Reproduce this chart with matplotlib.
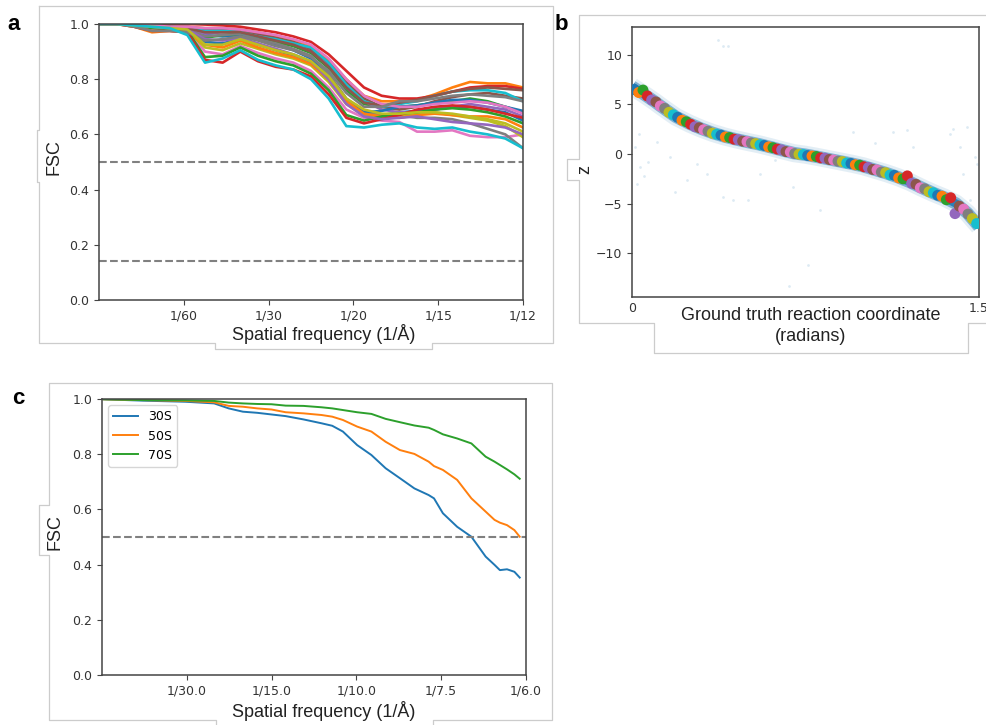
import numpy as np
import matplotlib
matplotlib.use("Agg")
import matplotlib.pyplot as plt
from matplotlib.lines import Line2D

# ---- panel a: per-map FSC curves ----
freq_a = np.arange(25) / 288.0
fsc_maps = [
    [1.0, 1.0, .995, .99, .985, .98, .96, .955, .96, .945, .925, .905, .875, .81, .72, .68, .67, .68, .685, .69, .70, .70, .69, .68, .65],
    [1.0, 1.0, 1.0, .995, .99, .99, .985, .985, .98, .97, .955, .94, .92, .87, .80, .74, .72, .72, .725, .745, .77, .79, .785, .785, .77],
    [1.0, 1.0, .995, .99, .985, .98, .95, .96, .965, .95, .935, .92, .895, .84, .76, .71, .70, .70, .705, .715, .72, .73, .72, .70, .68],
    [1.0, 1.0, 1.0, 1.0, 1.0, 1.0, .998, .995, .99, .98, .97, .955, .935, .89, .83, .77, .74, .73, .73, .74, .755, .77, .775, .775, .765],
    [1.0, 1.0, .995, .99, .985, .98, .965, .97, .975, .96, .945, .93, .905, .85, .77, .72, .69, .68, .68, .69, .70, .71, .70, .69, .665],
    [1.0, 1.0, 1.0, .995, .99, .99, .98, .98, .975, .965, .95, .935, .91, .86, .79, .73, .70, .69, .70, .72, .735, .745, .75, .74, .73],
    [1.0, 1.0, .995, .99, .98, .975, .90, .89, .92, .895, .875, .86, .83, .77, .69, .66, .65, .645, .61, .61, .615, .595, .59, .59, .60],
    [1.0, 1.0, .995, .99, .985, .98, .955, .96, .965, .945, .93, .91, .885, .82, .73, .68, .67, .67, .66, .66, .655, .64, .62, .60, .55],
    [1.0, 1.0, .995, .99, .98, .975, .915, .905, .93, .91, .89, .875, .85, .79, .71, .67, .665, .67, .675, .68, .67, .66, .65, .63, .59],
    [1.0, 1.0, 1.0, .995, .99, .985, .975, .975, .97, .955, .945, .93, .915, .86, .78, .72, .70, .71, .72, .74, .755, .76, .76, .75, .72],
    [1.0, 1.0, .995, .99, .985, .98, .935, .93, .945, .925, .905, .885, .86, .80, .715, .68, .685, .70, .705, .715, .725, .725, .715, .70, .685],
    [1.0, 1.0, .99, .97, .975, .97, .925, .915, .94, .915, .895, .88, .855, .80, .72, .675, .665, .66, .67, .675, .67, .665, .665, .655, .625],
    [1.0, 1.0, .995, .985, .98, .975, .88, .885, .915, .885, .865, .85, .82, .76, .67, .65, .665, .675, .68, .69, .695, .69, .68, .665, .64],
    [1.0, 1.0, .99, .975, .975, .97, .87, .86, .90, .865, .845, .835, .81, .745, .66, .64, .655, .67, .69, .70, .705, .70, .69, .675, .66],
    [1.0, 1.0, .995, .99, .985, .98, .945, .94, .95, .93, .91, .89, .865, .80, .71, .665, .655, .66, .665, .655, .645, .64, .635, .625, .60],
    [1.0, 1.0, 1.0, .995, .99, .985, .97, .97, .97, .955, .94, .925, .90, .845, .77, .715, .705, .715, .725, .74, .755, .765, .77, .765, .76],
    [1.0, 1.0, 1.0, .995, .99, .99, .985, .985, .98, .97, .96, .945, .925, .875, .80, .74, .71, .70, .70, .71, .715, .72, .715, .70, .675],
    [1.0, 1.0, .99, .975, .975, .97, .94, .945, .955, .94, .92, .905, .88, .83, .75, .70, .70, .72, .72, .73, .74, .745, .74, .735, .72],
    [1.0, 1.0, .995, .99, .985, .98, .925, .925, .945, .925, .905, .89, .865, .81, .73, .69, .675, .675, .68, .68, .675, .665, .655, .64, .61],
    [1.0, 1.0, .995, .99, .985, .96, .86, .875, .905, .87, .85, .835, .80, .73, .63, .625, .635, .64, .625, .62, .625, .61, .60, .585, .55],
]
ticks_a = [1/60, 1/30, 1/20, 1/15, 1/12]
ticklabels_a = ["1/60", "1/30", "1/20", "1/15", "1/12"]

# ---- panel b: latent coordinate vs ground truth ----
band_x = [0.0, 0.05, 0.10, 0.12, 0.15, 0.19, 0.25, 0.30, 0.35, 0.40, 0.45, 0.50, 0.55, 0.60,
          0.65, 0.70, 0.75, 0.80, 0.85, 0.90, 0.95, 1.00, 1.05, 1.10, 1.15, 1.20, 1.25,
          1.30, 1.35, 1.40, 1.45, 1.50]
band_z = [6.8, 6.05, 5.25, 4.9, 4.4, 3.75, 3.05, 2.55, 2.12, 1.77, 1.48, 1.22, 0.98, 0.69,
          0.38, 0.09, -0.07, -0.28, -0.51, -0.74, -0.97, -1.23, -1.58, -1.93, -2.33, -2.80,
          -3.37, -3.90, -4.38, -4.98, -5.95, -7.3]
dot_z = [6.5, 6.2, 6.45, 5.85, 5.45, 5.25, 4.85, 4.6, 4.2, 3.95, 3.7, 3.4, 3.25, 3.0, 2.75,
         2.65, 2.45, 2.3, 2.1, 2.0, 1.9, 1.72, 1.66, 1.5, 1.45, 1.3, 1.25, 1.12, 1.05, 0.93,
         0.86, 0.72, 0.64, 0.5, 0.42, 0.25, 0.2, 0.05, -0.02, -0.05, -0.15, -0.2, -0.25, -0.38,
         -0.42, -0.55, -0.6, -0.72, -0.76, -0.9, -0.95, -1.08, -1.12, -1.28, -1.35, -1.55,
         -1.6, -1.82, -1.88, -2.1, -2.15, -2.4, -2.5, -2.2, -2.95, -3.05, -3.4, -3.5, -3.8,
         -3.9, -4.15, -4.25, -4.6, -4.4, -6.0, -5.25, -5.55, -6.05, -6.5, -7.0]
dot_x = np.linspace(0.01, 1.49, len(dot_z))
stray_x = [0.373, 0.395, 0.416, 0.030, 0.035, 0.013, 0.164, 0.186, 0.236, 0.323, 0.395, 0.438,
           0.503, 0.553, 0.697, 0.813, 0.762, 0.680, 0.957, 1.130, 1.187, 1.389, 1.447, 1.483,
           1.490, 1.418, 1.432, 1.375, 1.461, 1.216, 0.05, 0.07, 0.02, 0.11, 0.28, 0.62, 1.05]
stray_z = [11.5, 10.9, 10.9, 2.05, -1.3, 0.7, -0.3, -3.8, -2.65, -1.97, -4.33, -4.66, -4.66,
           -1.97, -3.32, -5.67, -11.2, -13.3, 2.21, 2.21, 2.38, 2.55, 2.71, -0.3, -0.97, 0.7,
           -1.97, 2.05, -4.66, 0.7, -2.2, -0.8, -3.0, 1.2, -1.0, -0.6, 1.1]

# ---- panel c: ribosome subunit FSC ----
freq_c = [0.0006, 0.0161, 0.0329, 0.0441, 0.0498, 0.0554, 0.0610, 0.0666, 0.0722, 0.0792,
          0.0863, 0.0905, 0.0947, 0.1003, 0.1059, 0.1115, 0.1171, 0.1228, 0.1284, 0.1305,
          0.1340, 0.1396, 0.1452, 0.1508, 0.1543, 0.1564, 0.1592, 0.1621, 0.1642]
fsc_30s = [.999, .994, .990, .984, .966, .954, .950, .944, .938, .926, .912, .903, .882, .833,
           .797, .749, .713, .676, .652, .640, .586, .537, .501, .429, .399, .380, .383, .374, .353]
fsc_50s = [.999, .996, .993, .988, .975, .972, .966, .962, .952, .948, .942, .936, .924, .900,
           .882, .845, .815, .801, .773, .757, .743, .707, .640, .592, .562, .552, .543, .525, .501]
fsc_70s = [.999, .996, .995, .993, .987, .984, .982, .981, .976, .975, .970, .966, .960, .952,
           .946, .928, .916, .904, .896, .888, .872, .857, .839, .791, .773, .761, .745, .727, .711]
labels_c = ["30S", "50S", "70S"]
ticks_c = [1/30, 1/15, 1/10, 1/7.5, 1/6]
ticklabels_c = ["1/30.0", "1/15.0", "1/10.0", "1/7.5", "1/6.0"]

W, H = 987, 725
fig = plt.figure(figsize=(W / 100, H / 100), dpi=100)
tab = plt.get_cmap("tab10").colors
LAB = dict(family="Liberation Sans", fontsize=13, color="#222222")


def px_axes(l, t, r, b):
    return fig.add_axes([l / W, 1 - b / H, (r - l) / W, (b - t) / H])


def frame(pts):
    fig.add_artist(Line2D([p[0] / W for p in pts], [1 - p[1] / H for p in pts],
                          color="#cccccc", lw=0.9))


def style(ax):
    for s in ax.spines.values():
        s.set_linewidth(1.1)
        s.set_color("#444444")
    ax.tick_params(labelsize=9, colors="#444444", labelcolor="#333333", length=3.5)


# frames around the panels
frame([(39, 6), (553, 6), (553, 343), (432, 343), (432, 349), (215, 349), (215, 343),
       (39, 343), (39, 182), (37, 182), (37, 130), (39, 130), (39, 6)])
frame([(990, 15), (579, 15), (579, 159), (567, 159), (567, 180), (579, 180), (579, 323),
       (654, 323), (654, 353), (968, 353), (968, 323), (990, 323)])
frame([(216, 730), (216, 720), (49, 720), (49, 555), (39, 555), (39, 505), (49, 505),
       (49, 383), (552, 383), (552, 720), (433, 720), (433, 730)])

# panel a
ax = px_axes(99, 24, 523, 300)
for i, curve in enumerate(fsc_maps):
    ax.plot(freq_a, curve, color=tab[i % 10], lw=1.9)
ax.axhline(0.5, color="gray", ls="--", lw=1.5)
ax.axhline(0.143, color="gray", ls="--", lw=1.5)
ax.set_xlim(0, 1/12)
ax.set_ylim(0, 1)
ax.set_xticks(ticks_a)
ax.set_xticklabels(ticklabels_a)
ax.set_yticks(np.arange(0, 1.01, 0.2))
style(ax)

# panel b
ax = px_axes(632, 27, 979, 297)
ax.plot(band_x, band_z, color="#1f77b4", lw=13, alpha=0.12, solid_capstyle="butt")
ax.plot(band_x, band_z, color="#1f77b4", lw=9, alpha=0.5, solid_capstyle="butt")
ax.plot(band_x, band_z, color="#1f77b4", lw=6, alpha=0.85, solid_capstyle="butt")
ax.scatter(stray_x, stray_z, s=4, color="#1f77b4", alpha=0.15, lw=0)
ax.scatter(dot_x, dot_z, s=62, c=[tab[i % 10] for i in range(len(dot_z))], lw=0, zorder=3)
ax.set_xlim(0, 1.5)
ax.set_ylim(-14.4, 12.8)
ax.set_xticks([0, 1.5])
ax.set_xticklabels(["0", "1.5"])
ax.set_yticks([-10, -5, 0, 5, 10])
style(ax)
ax.tick_params(axis="x", length=0)

# panel c
ax = px_axes(102, 399, 526, 675)
for vals, lab, col in zip([fsc_30s, fsc_50s, fsc_70s], labels_c, tab[:3]):
    ax.plot(freq_c, vals, color=col, lw=1.4, label=lab)
ax.axhline(0.5, color="gray", ls="--", lw=1.5)
ax.set_xlim(0, 1/6)
ax.set_ylim(0, 1)
ax.set_xticks(ticks_c)
ax.set_xticklabels(ticklabels_c)
ax.set_yticks(np.arange(0, 1.01, 0.2))
ax.legend(loc="upper left", fontsize=9, borderaxespad=0.5)
style(ax)

# axis labels and panel letters placed as in the figure
fig.text(324 / W, 1 - 334 / H, "Spatial frequency (1/Å)", ha="center", va="center", **LAB)
fig.text(324 / W, 1 - 711 / H, "Spatial frequency (1/Å)", ha="center", va="center", **LAB)
fig.text(54 / W, 1 - 157 / H, "FSC", rotation=90, ha="center", va="center", **LAB)
fig.text(55 / W, 1 - 532 / H, "FSC", rotation=90, ha="center", va="center", **LAB)
fig.text(585 / W, 1 - 169 / H, "z", rotation=90, ha="center", va="center", **LAB)
fig.text(811 / W, 1 - 326 / H, "Ground truth reaction coordinate\n(radians)", ha="center",
         va="center", linespacing=1.25, **LAB)
for letter, x, y in [("a", 14, 25), ("b", 561, 25), ("c", 18, 399)]:
    fig.text(x / W, 1 - y / H, letter, ha="center", va="center", fontsize=16,
             fontweight="bold", family="Liberation Sans")

fig.savefig("out.png", dpi=100)
